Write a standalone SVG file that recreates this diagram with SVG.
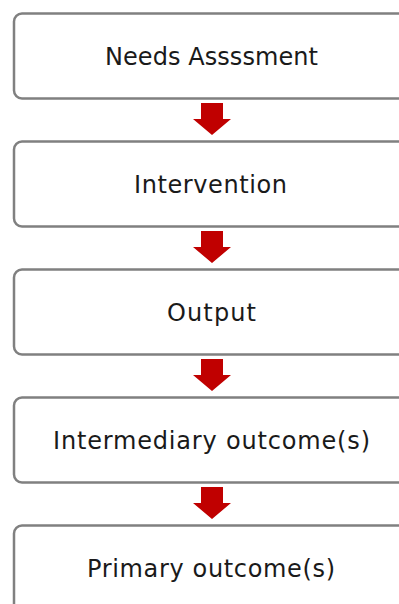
<svg xmlns="http://www.w3.org/2000/svg" width="399" height="604" viewBox="0 0 399 604">
<style>
.box{fill:#fff;stroke:#808080;stroke-width:2.5}
.lbl{font-family:"DejaVu Sans","Liberation Sans",Arial,sans-serif;font-size:24px;fill:#1a1a1a;text-anchor:middle}
.arr{fill:#C00000}
</style>
<rect width="399" height="604" fill="#fff"/>
<g id="n1"><rect class="box" x="14" y="13.5" width="400" height="85" rx="8"/><text class="lbl" x="211.5" y="65" textLength="213" lengthAdjust="spacing">Needs Assssment</text></g>
<g id="n2"><rect class="box" x="14" y="141.5" width="400" height="85" rx="8"/><text class="lbl" x="210.5" y="193" textLength="153" lengthAdjust="spacing">Intervention</text></g>
<g id="n3"><rect class="box" x="14" y="269.5" width="400" height="85" rx="8"/><text class="lbl" x="211.5" y="321" textLength="89" lengthAdjust="spacing">Output</text></g>
<g id="n4"><rect class="box" x="14" y="397.5" width="400" height="85" rx="8"/><text class="lbl" x="211.5" y="449" textLength="317" lengthAdjust="spacing">Intermediary outcome(s)</text></g>
<g id="n5"><rect class="box" x="14" y="525.5" width="400" height="120" rx="8"/><text class="lbl" x="211" y="577" textLength="248" lengthAdjust="spacing">Primary outcome(s)</text></g>
<g id="connectors">
<path class="arr" d="M201 103H223V119H231L212 135L193 119H201Z"/>
<path class="arr" d="M201 231H223V247H231L212 263L193 247H201Z"/>
<path class="arr" d="M201 359H223V375H231L212 391L193 375H201Z"/>
<path class="arr" d="M201 487H223V503H231L212 519L193 503H201Z"/>
</g>
</svg>
